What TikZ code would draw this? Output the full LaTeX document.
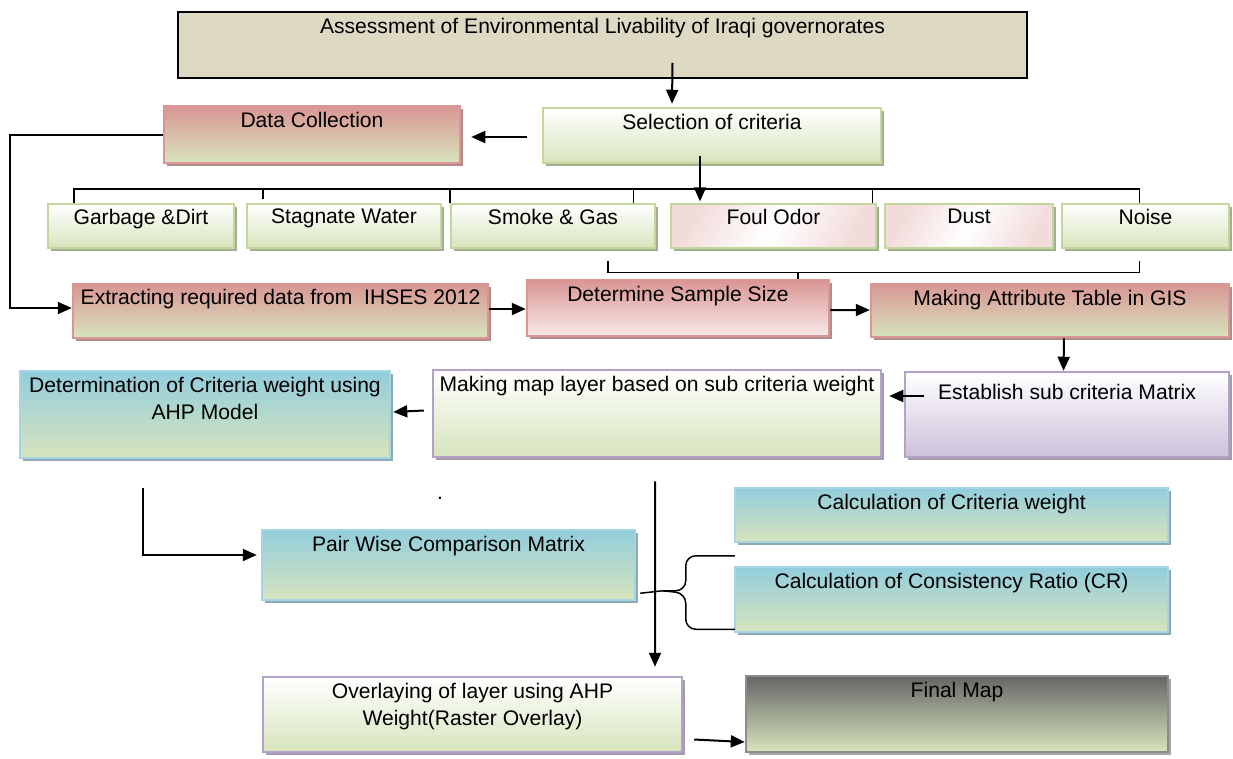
\documentclass[tikz,border=0pt]{standalone}
\usepackage{fontspec}
\setmainfont{Liberation Sans}
\usetikzlibrary{arrows.meta,fit,shadows}

\definecolor{leaf}{HTML}{D7E4BD}
\definecolor{leafline}{HTML}{C3D69B}
\definecolor{leafshade}{HTML}{A3AD8F}
\definecolor{rose}{HTML}{D99694}
\definecolor{roseshade}{HTML}{B08D8C}
\definecolor{blush}{HTML}{F2DCDB}
\definecolor{sky}{HTML}{92CDDC}
\definecolor{skyline}{HTML}{A5D5E2}
\definecolor{skyshade}{HTML}{8FA9B2}
\definecolor{lilac}{HTML}{CCC1DA}
\definecolor{lilacline}{HTML}{B3A2C7}
\definecolor{lilacshade}{HTML}{A59BAE}
\definecolor{sand}{HTML}{DDD9C3}
\definecolor{slate}{HTML}{666666}

\begin{document}
\begin{tikzpicture}[x=0.02cm, y=-0.02cm,
  box/.style={draw, line width=0.05cm, inner sep=0pt},
  shadowed/.style={drop shadow={fill=#1, opacity=1, shadow xshift=0.06cm, shadow yshift=-0.06cm}},
  goalbox/.style={draw=black, line width=0.03cm, fill=sand, inner sep=0pt},
  leafbox/.style={box, draw=leafline, top color=white, bottom color=leaf, shadowed=leafshade},
  blushbox/.style={box, draw=leafline, top color=blush, bottom color=blush, middle color=white, shading angle=60, shadowed=leafshade},
  rosebox/.style={box, draw=rose, top color=rose, bottom color=leaf, shadowed=roseshade},
  samplebox/.style={box, draw=rose, top color=rose, bottom color=blush!60!white, shadowed=roseshade},
  skybox/.style={box, draw=skyline, top color=sky, bottom color=leaf, shadowed=skyshade},
  lilacbox/.style={box, draw=lilacline, top color=white, bottom color=lilac, shadowed=lilacshade},
  layerbox/.style={box, draw=lilacline, top color=white, bottom color=leaf, shadowed=lilacshade},
  mapbox/.style={box, draw=black!45, top color=slate, bottom color=leaf, shadowed=black!35},
  txt/.style={anchor=north, inner sep=0pt, align=center, font=\fontsize{12}{15.7}\selectfont},
  arr/.style={line width=0.04cm, -{Triangle[length=0.28cm, width=0.24cm]}},
  bus/.style={line width=0.03cm}]
  \useasboundingbox (0,0) rectangle (1233,758);

  % goal
  \node[goalbox, fit={(178,12) (1027,78)}] (goal) {};
  \node[txt] (goal-t) at ([shift={(0,7)}]goal.north) {Assessment of Environmental Livability of Iraqi governorates};

  % criteria selection and data collection
  \node[leafbox, fit={(543,108) (881,163)}] (sel) {};
  \node[txt] (sel-t) at ([shift={(0,7)}]sel.north) {Selection of criteria};
  \node[rosebox, fit={(164,106) (460,163)}] (dc) {};
  \node[txt] (dc-t) at ([shift={(0,7)}]dc.north) {Data Collection};

  % criteria
  \node[leafbox, fit={(48,204) (234,248)}] (c1) {};
  \node[leafbox, fit={(247,204) (441,248)}] (c2) {};
  \node[leafbox, fit={(451,204) (655,248)}] (c3) {};
  \node[blushbox, fit={(671,204) (876,248)}] (c4) {};
  \node[blushbox, fit={(885,204) (1053,248)}] (c5) {};
  \node[leafbox, fit={(1062,204) (1229,248)}] (c6) {};
  \foreach \nm/\lbl in {c1/{Garbage \&Dirt}, c2/Stagnate Water, c3/{Smoke \& Gas},
      c4/Foul Odor, c5/Dust, c6/Noise}
    \node[txt] (\nm-t) at ([shift={(0,6)}]\nm.north) {\lbl};

  % data preparation
  \node[rosebox, fit={(73,284) (488,338)}] (ext) {};
  \node[txt] (ext-t) at ([shift={(0,6)}]ext.north) {Extracting required data from \ IHSES 2012};
  \node[samplebox, fit={(527,280) (829,336)}] (smp) {};
  \node[txt] (smp-t) at ([shift={(0,7)}]smp.north) {Determine Sample Size};
  \node[rosebox, fit={(871,284) (1229,337)}] (attr) {};
  \node[txt] (attr-t) at ([shift={(0,7)}]attr.north) {Making Attribute Table in GIS};

  % weights
  \node[lilacbox, fit={(905,372) (1229,457)}] (subm) {};
  \node[txt] (subm-t) at ([shift={(0,13)}]subm.north) {Establish sub criteria Matrix};
  \node[layerbox, fit={(433,370) (881,457)}] (layer) {};
  \node[txt] (layer-t) at ([shift={(0,7)}]layer.north) {Making map layer based on sub criteria weight};
  \node[skybox, fit={(20,371) (390,458)}] (ahp) {};
  \node[txt] (ahp-t) at ([shift={(0,7)}]ahp.north) {Determination of Criteria weight using\\AHP Model};

  % AHP steps
  \node[txt] (speck) at (440,497) {.};
  \node[skybox, fit={(262,530) (635,600)}] (pair) {};
  \node[txt] (pair-t) at ([shift={(0,7)}]pair.north) {Pair Wise Comparison Matrix};
  \node[skybox, fit={(735,488) (1168,542)}] (cw) {};
  \node[txt] (cw-t) at ([shift={(0,7)}]cw.north) {Calculation of Criteria weight};
  \node[skybox, fit={(735,567) (1168,632)}] (cr) {};
  \node[txt] (cr-t) at ([shift={(0,7)}]cr.north) {Calculation of Consistency Ratio (CR)};

  % result
  \node[layerbox, fit={(263,677) (682,752)}] (ovl) {};
  \node[txt] (ovl-t) at ([shift={(0,7)}]ovl.north) {Overlaying of layer using AHP\\Weight(Raster Overlay)};
  \node[mapbox, fit={(746,676) (1168,752)}] (fin) {};
  \node[txt] (fin-t) at ([shift={(0,7)}]fin.north) {Final Map};

  % arrows
  \draw[arr] ([shift={(70,-16)}]goal.south) -- ([shift={(-40,-3)}]sel.north);
  \draw[arr] ([shift={(-15,1.5)}]sel.west) -- ([shift={(10,2.5)}]dc.east);
  \draw[arr] ([shift={(-12,-8)}]sel.south) -- ([shift={(-12,37)}]sel.south);
  \draw[arr] (dc.west) -| ([shift={(-62,-3)}]ext.west) -- ([shift={(0,-3)}]ext.west);
  \draw[arr] ([shift={(0,-2)}]ext.east) -- ([shift={(0,1)}]smp.west);
  \draw[arr] ([shift={(0,2)}]smp.east) -- ([shift={(0,-0.5)}]attr.west);
  \draw[arr] ([shift={(14,0)}]attr.south) -- ([shift={(-3.5,0)}]subm.north);
  \draw[arr] ([shift={(20,-18.5)}]subm.west) -- ([shift={(7,-17.5)}]layer.east);
  \draw[arr] ([shift={(-8,-3)}]layer.west) -- ([shift={(2,-2.5)}]ahp.east);
  \draw[arr] ([shift={(-62,29)}]ahp.south) |- ([shift={(-4,-10)}]pair.west);
  \draw[arr] ([shift={(-2,23)}]layer.south) -- ([shift={(182.5,-9)}]ovl.north);
  \draw[arr] ([shift={(11,25)}]ovl.east) -- ([shift={(0,28)}]fin.west);

  % criteria brackets
  \coordinate (t1) at ([shift={(-67,0)}]c1.north);
  \coordinate (t2) at ([shift={(-81,-4)}]c2.north);
  \coordinate (t3) at (c3.north west);
  \coordinate (t4) at ([shift={(-23,0)}]c3.north east);
  \coordinate (t5) at ([shift={(-5,0)}]c4.north east);
  \coordinate (t6) at ([shift={(-6,0)}]c6.north);
  \coordinate (busT) at ([shift={(0,-14)}]t1);
  \draw[bus] (t1) -- (busT) -| (t6);
  \foreach \tk in {t2,t3,t4,t5}
    \draw[bus] (\tk) -- (\tk |- busT);
  \coordinate (b1) at ([shift={(55,12)}]c3.south);
  \coordinate (b2) at ([shift={(-6,12)}]c6.south);
  \coordinate (busB) at ([shift={(0,11)}]b1);
  \draw[bus] (b1) -- (busB) -| (b2);
  \draw[bus] ([shift={(120,0)}]smp.north) -- ([shift={(120,0)}]smp.north |- busB);

  % brace to the two calculations
  \coordinate (brT) at ([shift={(1,-10)}]cr.north west);
  \coordinate (brB) at ([shift={(1,-4)}]cr.south west);
  \coordinate (brM) at ([shift={(4,-8)}]pair.south east);
  \draw[bus, rounded corners=0.2cm] (brT) -- ++(-49,0) -- ++(0,35) -- ++(-23,0) coordinate (brTip);
  \draw[bus, rounded corners=0.2cm] (brB) -- ++(-49,0) -- ++(0,-36) -- (brTip);
  \draw[bus] (brM) -- (brTip);
\end{tikzpicture}
\end{document}
